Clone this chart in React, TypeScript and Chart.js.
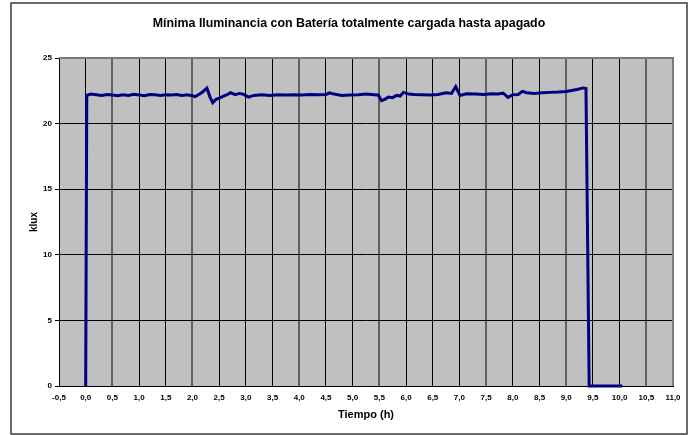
import React, { useEffect, useRef } from "react";
import { Chart, registerables } from "chart.js";

Chart.register(...registerables);

const chartTitle = "Mínima Iluminancia con Batería totalmente cargada hasta apagado";
const xAxisTitle = "Tiempo (h)";
const yAxisTitle = "klux";

const xMin = -0.5;
const xMax = 11;
const xStep = 0.5;
const yMin = 0;
const yMax = 25;
const yStep = 5;

// Time (h)
const timeHours = [
  0, 0.02, 0.1, 0.2, 0.3, 0.4, 0.5, 0.6, 0.7, 0.8,
  0.9, 1.0, 1.1, 1.2, 1.3, 1.4, 1.5, 1.6, 1.7, 1.8,
  1.9, 2.0, 2.05, 2.1, 2.15, 2.2, 2.27, 2.33, 2.38, 2.44,
  2.5, 2.58, 2.65, 2.71, 2.8, 2.88, 2.95, 3.05, 3.15, 3.3,
  3.45, 3.6, 3.75, 3.9, 4.05, 4.2, 4.35, 4.5, 4.57, 4.65,
  4.8, 4.95, 5.1, 5.25, 5.4, 5.48, 5.54, 5.6, 5.67, 5.75,
  5.82, 5.89, 5.95, 6.05, 6.15, 6.3, 6.45, 6.6, 6.75, 6.85,
  6.93, 7.01, 7.13, 7.3, 7.45, 7.6, 7.72, 7.82, 7.91, 8.0,
  8.1, 8.18, 8.26, 8.4, 8.55, 8.7, 8.85, 9.0, 9.1, 9.2,
  9.32, 9.37, 9.43, 9.6, 9.8, 10.05,
];

// Illuminance (klux)
const illuminanceKlux = [
  0, 22.15, 22.25, 22.2, 22.15, 22.22, 22.18, 22.12, 22.2, 22.15,
  22.24, 22.18, 22.12, 22.22, 22.2, 22.15, 22.2, 22.18, 22.22, 22.15,
  22.2, 22.12, 22.05, 22.18, 22.3, 22.45, 22.7, 22.0, 21.6, 21.85,
  21.95, 22.1, 22.2, 22.36, 22.2, 22.3, 22.25, 22.02, 22.15, 22.2,
  22.15, 22.2, 22.18, 22.2, 22.18, 22.22, 22.2, 22.22, 22.35, 22.25,
  22.15, 22.18, 22.2, 22.25, 22.2, 22.18, 21.75, 21.85, 22.02, 21.98,
  22.15, 22.1, 22.38, 22.25, 22.22, 22.2, 22.18, 22.22, 22.35, 22.3,
  22.82, 22.15, 22.28, 22.25, 22.22, 22.28, 22.25, 22.32, 22.0, 22.2,
  22.22, 22.46, 22.35, 22.3, 22.35, 22.38, 22.4, 22.45, 22.52, 22.6,
  22.72, 22.68, 0, 0, 0, 0,
];

// vertical grid lines that render as soft, anti-aliased grey in the original
const greyGridHours = [0.5, 2, 4, 5.5, 7.5, 9, 10.5];

const FONT = '"Liberation Sans", Arial, sans-serif';

const framePlugin = {
  id: "frame",
  beforeDraw(chart: any) {
    const { ctx, chartArea: a } = chart;
    ctx.save();
    ctx.fillStyle = "#ffffff";
    ctx.fillRect(0, 0, chart.width, chart.height);
    ctx.fillStyle = "#c0c0c0";
    ctx.fillRect(a.left, a.top, a.right - a.left, a.bottom - a.top);
    ctx.strokeStyle = "#3a3a3a";
    ctx.lineWidth = 1.5;
    ctx.strokeRect(11, 3, 676, 431);
    ctx.fillStyle = "#000000";
    ctx.font = `bold 12.4px ${FONT}`;
    ctx.textAlign = "center";
    ctx.textBaseline = "middle";
    ctx.fillText(chartTitle, 349, 24);
    ctx.restore();
  },
  beforeDatasetsDraw(chart: any) {
    const { ctx, chartArea: a } = chart;
    ctx.save();
    ctx.strokeStyle = "#7a7a7a";
    ctx.lineWidth = 2;
    ctx.beginPath();
    ctx.moveTo(a.left, a.top);
    ctx.lineTo(a.right, a.top);
    ctx.lineTo(a.right, a.bottom);
    ctx.stroke();
    ctx.restore();
  },
};

export default function App() {
  const canvasRef = useRef<HTMLCanvasElement | null>(null);

  useEffect(() => {
    document.body.style.margin = "0";
    const canvas = canvasRef.current;
    if (!canvas) return;
    const points = timeHours.map((t, i) => ({ x: t, y: illuminanceKlux[i] }));
    const isGrey = (v: number) => greyGridHours.some((g) => Math.abs(g - v) < 1e-6);

    const chart = new Chart(canvas, {
      type: "line",
      data: {
        datasets: [
          {
            data: points,
            borderColor: "#000080",
            borderWidth: 3,
            pointRadius: 0,
            tension: 0,
            fill: false,
            clip: 4,
          } as any,
        ],
      },
      plugins: [framePlugin],
      options: {
        animation: false,
        responsive: false,
        devicePixelRatio: 1,
        layout: { padding: { top: 58, left: 0, right: 22, bottom: 0 } },
        plugins: {
          legend: { display: false },
          title: { display: false },
          tooltip: { enabled: false },
        },
        scales: {
          x: {
            type: "linear",
            min: xMin,
            max: xMax,
            afterFit: (s: any) => {
              s.height = 49;
            },
            ticks: {
              stepSize: xStep,
              color: "#000",
              font: { family: FONT, size: 8, weight: "bold" },
              padding: 7,
              maxRotation: 0,
              autoSkip: false,
              callback: (v: any) => Number(v).toFixed(1).replace(".", ","),
            },
            grid: {
              drawTicks: false,
              color: (c: any) => (c.tick && isGrey(c.tick.value) ? "#606060" : "#000000"),
              lineWidth: (c: any) => (c.tick && isGrey(c.tick.value) ? 2 : 1),
            },
            border: { display: true, color: "#000", width: 1 },
            title: {
              display: true,
              text: xAxisTitle,
              color: "#000",
              font: { family: FONT, size: 11, weight: "bold" },
              padding: { top: 0, bottom: 13.5 },
            },
          },
          y: {
            type: "linear",
            min: yMin,
            max: yMax,
            afterFit: (s: any) => {
              s.width = 59;
            },
            ticks: {
              stepSize: yStep,
              color: "#000",
              font: { family: FONT, size: 8, weight: "bold" },
              padding: 3,
            },
            grid: {
              drawTicks: true,
              tickLength: 4,
              color: "#000000",
              lineWidth: 1,
            },
            border: { display: true, color: "#000", width: 1 },
            title: {
              display: true,
              text: yAxisTitle,
              color: "#000",
              font: { family: FONT, size: 10, weight: "bold" },
              padding: { top: 28, bottom: 0 },
            },
          },
        },
      } as any,
    });
    return () => chart.destroy();
  }, []);

  return (
    <div style={{ position: "absolute", left: 0, top: 0, width: 695, height: 435 }}>
      <canvas ref={canvasRef} width={695} height={435} />
    </div>
  );
}
